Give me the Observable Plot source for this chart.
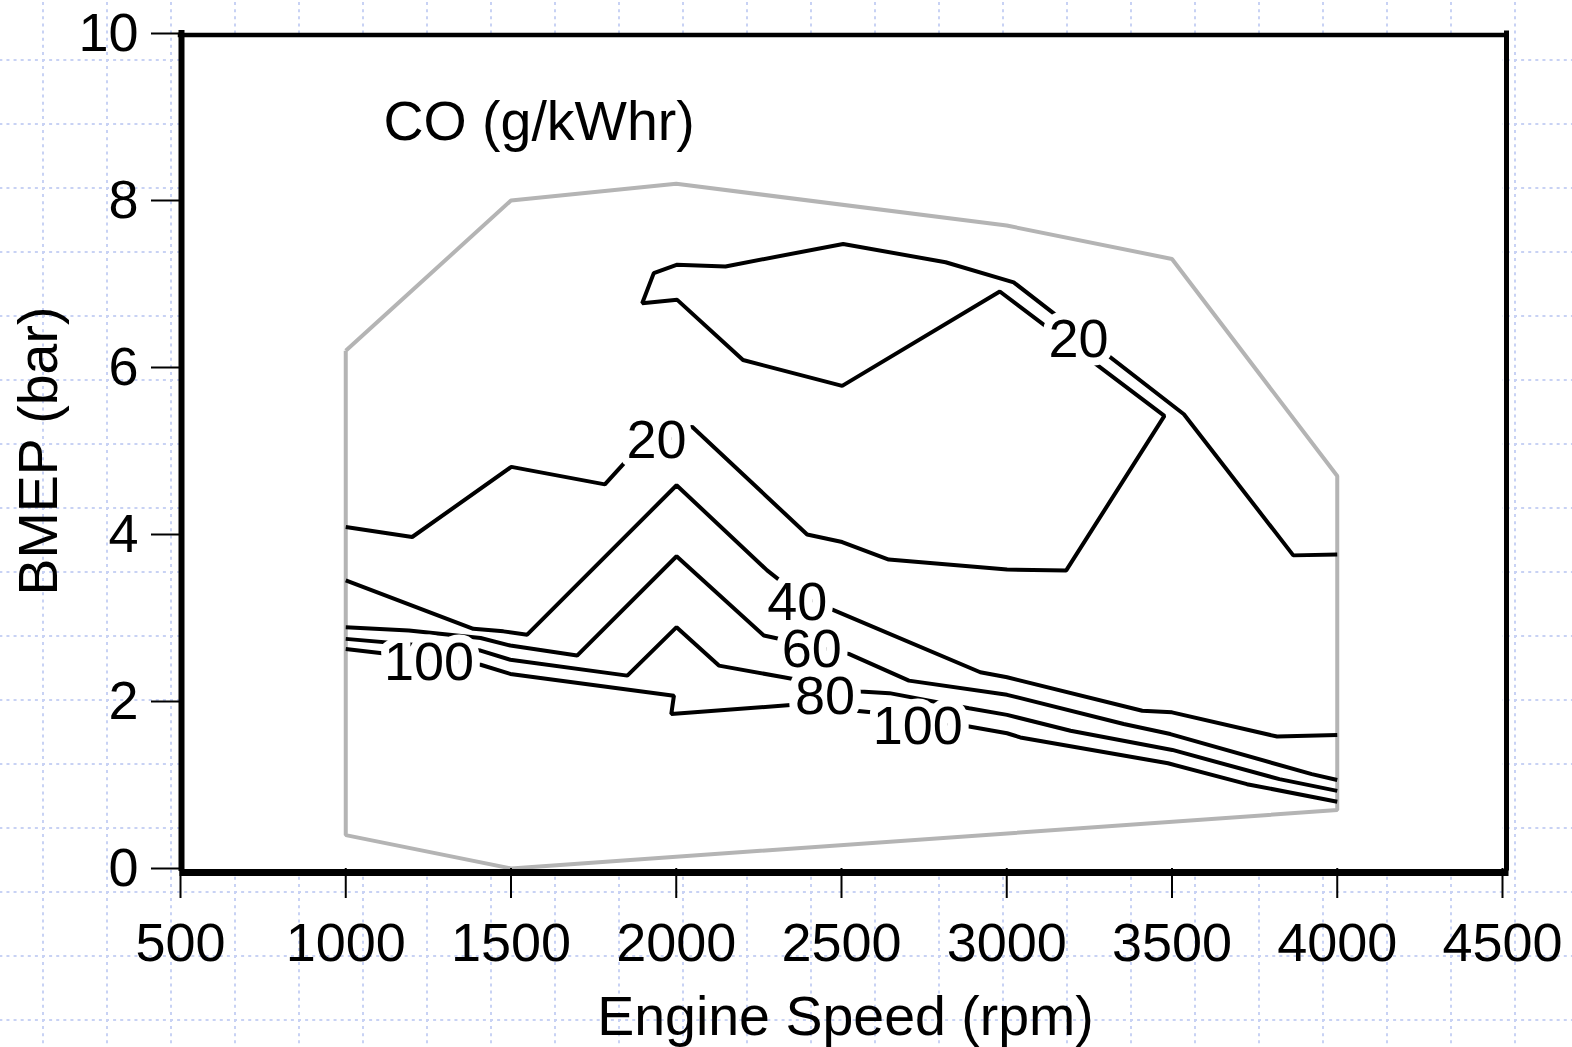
<!DOCTYPE html>
<html>
<head>
<meta charset="utf-8">
<script src="https://cdn.jsdelivr.net/npm/d3@7"></script>
<script src="https://cdn.jsdelivr.net/npm/@observablehq/plot@0.6"></script>
<style>
  html, body { margin: 0; padding: 0; overflow: hidden; }
  body {
    width: 1572px; height: 1047px;
    background-color: white;
    background-image: url("data:image/svg+xml,%3Csvg xmlns='http://www.w3.org/2000/svg' width='64' height='64'%3E%3Cpath d='M0 1H64' stroke='%23c8d2f4' stroke-width='2' stroke-dasharray='3 4.111'/%3E%3Cpath d='M1 0V64' stroke='%23c8d2f4' stroke-width='2' stroke-dasharray='3 4.111'/%3E%3C/svg%3E");
    background-size: 64px 64px;
    background-position: 41.7px 59px;
  }
  #chart svg { display: block; }
</style>
</head>
<body>
<div id="chart"></div>
<script>
// Axis ticks
const xTicks = [500, 1000, 1500, 2000, 2500, 3000, 3500, 4000, 4500];
const yTicks = [0, 2, 4, 6, 8, 10];

// Operating envelope (grey boundary)
const envelope = [
  [1000, 6.2], [1500, 8.0], [2000, 8.2], [3000, 7.7], [3500, 7.3],
  [4000, 4.7], [4000, 0.7], [1500, 0.0], [1000, 0.4], [1000, 6.2]
];

// CO contour lines (engine speed rpm, BMEP bar)
const co20 = [
  [1000, 4.09], [1201, 3.97], [1501, 4.81], [1784, 4.60], [1846, 4.87],
  [2048, 5.29], [2396, 4.00], [2502, 3.91], [2643, 3.70], [3001, 3.58],
  [3180, 3.57], [3477, 5.42], [2979, 6.91], [2502, 5.78], [2202, 6.09],
  [2003, 6.81], [1897, 6.77], [1932, 7.13], [2001, 7.23], [2149, 7.21],
  [2505, 7.48], [2815, 7.26], [3021, 7.02], [3536, 5.44], [3867, 3.75],
  [4000, 3.76]
];
const co40 = [
  [1000, 3.45], [1386, 2.87], [1477, 2.84], [1549, 2.80], [2001, 4.59],
  [2275, 3.57], [2355, 3.32], [2467, 3.11], [2920, 2.35], [3001, 2.29],
  [3410, 1.89], [3500, 1.87], [3818, 1.58], [4000, 1.60]
];
const co60 = [
  [1000, 2.89], [1191, 2.85], [1408, 2.76], [1498, 2.67], [1700, 2.55],
  [2001, 3.74], [2265, 2.79], [2522, 2.57], [2704, 2.25], [3001, 2.08],
  [3354, 1.73], [3495, 1.61], [3923, 1.13], [4000, 1.06]
];
const co80 = [
  [1000, 2.75], [1408, 2.61], [1498, 2.50], [1852, 2.31], [2001, 2.89],
  [2129, 2.43], [2325, 2.29], [2557, 2.12], [2645, 2.10], [2886, 1.92],
  [3001, 1.84], [3193, 1.65], [3501, 1.42], [3825, 1.07], [4000, 0.93]
];
const co100 = [
  [1000, 2.63], [1408, 2.44], [1498, 2.33], [1993, 2.07], [1985, 1.85],
  [2356, 1.96], [2590, 1.87], [2886, 1.70], [3001, 1.62], [3041, 1.57],
  [3488, 1.26], [3727, 1.01], [4000, 0.80]
];

// Contour labels
const labelLevels = [20, 20, 40, 60, 80, 100, 100];
const labelX = [1940, 3217, 2366, 2410, 2450, 1252, 2731];
const labelY = [5.12, 6.33, 3.18, 2.62, 2.06, 2.46, 1.70];

// Texts
const titleText = "CO (g/kWhr)";
const titlePos = [1114, 8.73];
const xLabel = "Engine Speed (rpm)";
const yLabel = "BMEP (bar)";

const contourRows = [[20, co20], [40, co40], [60, co60], [80, co80], [100, co100]]
  .flatMap(([level, pts]) => pts.map(([x, y]) => ({level, x, y})));
const envelopeRows = envelope.map(([x, y]) => ({x, y}));
const labelRows = labelLevels.map((level, i) => ({level, x: labelX[i], y: labelY[i]}));

const FS = 54;
const FS_BIG = 55.5;

const chart = Plot.plot({
  width: 1572,
  height: 1047,
  marginLeft: 180,
  marginRight: 70,
  marginTop: 33,
  marginBottom: 179,
  x: {domain: [500, 4500]},
  y: {domain: [0, 10]},
  style: {
    fontFamily: "'Liberation Sans', Arial, Helvetica, sans-serif",
    fontSize: FS + "px",
    background: "transparent",
    color: "black",
    overflow: "visible"
  },
  marks: [
    Plot.frame({fill: "white", stroke: "none"}),
    Plot.line(envelopeRows, {x: "x", y: "y", stroke: "#b4b4b4", strokeWidth: 4, strokeLinejoin: "miter", strokeLinecap: "butt"}),
    Plot.line(contourRows, {x: "x", y: "y", z: "level", stroke: "black", strokeWidth: 4, strokeLinejoin: "miter", strokeLinecap: "butt"}),
    Plot.text(labelRows, {x: "x", y: "y", text: d => String(d.level), fontSize: FS, fill: "black", stroke: "white", strokeWidth: 16, strokeLinejoin: "round"}),
    Plot.text([titleText], {x: titlePos[0], y: titlePos[1], textAnchor: "start", lineAnchor: "bottom", fontSize: FS_BIG, fill: "black"}),
    // frame borders
    Plot.ruleX([500], {strokeWidth: 6, dx: 1, strokeLinecap: "square"}),
    Plot.ruleX([4500], {strokeWidth: 5, dx: 4, strokeLinecap: "square"}),
    Plot.ruleY([10], {strokeWidth: 4.5, dy: 1.5, strokeLinecap: "square"}),
    Plot.ruleY([0], {strokeWidth: 7, dy: 4, dx: 3, strokeLinecap: "square"}),
    Plot.axisX({ticks: xTicks, tickSize: 30, tickPadding: 24, strokeWidth: 2, label: null, fontSize: FS, tickFormat: d => String(d)}),
    Plot.axisY({ticks: yTicks, tickSize: 29, tickPadding: 13, strokeWidth: 2, label: null, fontSize: FS, tickFormat: d => String(d)}),
    Plot.text([xLabel], {frameAnchor: "bottom", dy: 166, dx: 4, textAnchor: "middle", lineAnchor: "bottom", fontSize: FS_BIG, fill: "black"}),
    Plot.text([yLabel], {frameAnchor: "left", rotate: -90, dx: -124, textAnchor: "middle", lineAnchor: "bottom", fontSize: FS_BIG, fill: "black"})
  ]
});

document.getElementById("chart").appendChild(chart);
</script>
</body>
</html>
